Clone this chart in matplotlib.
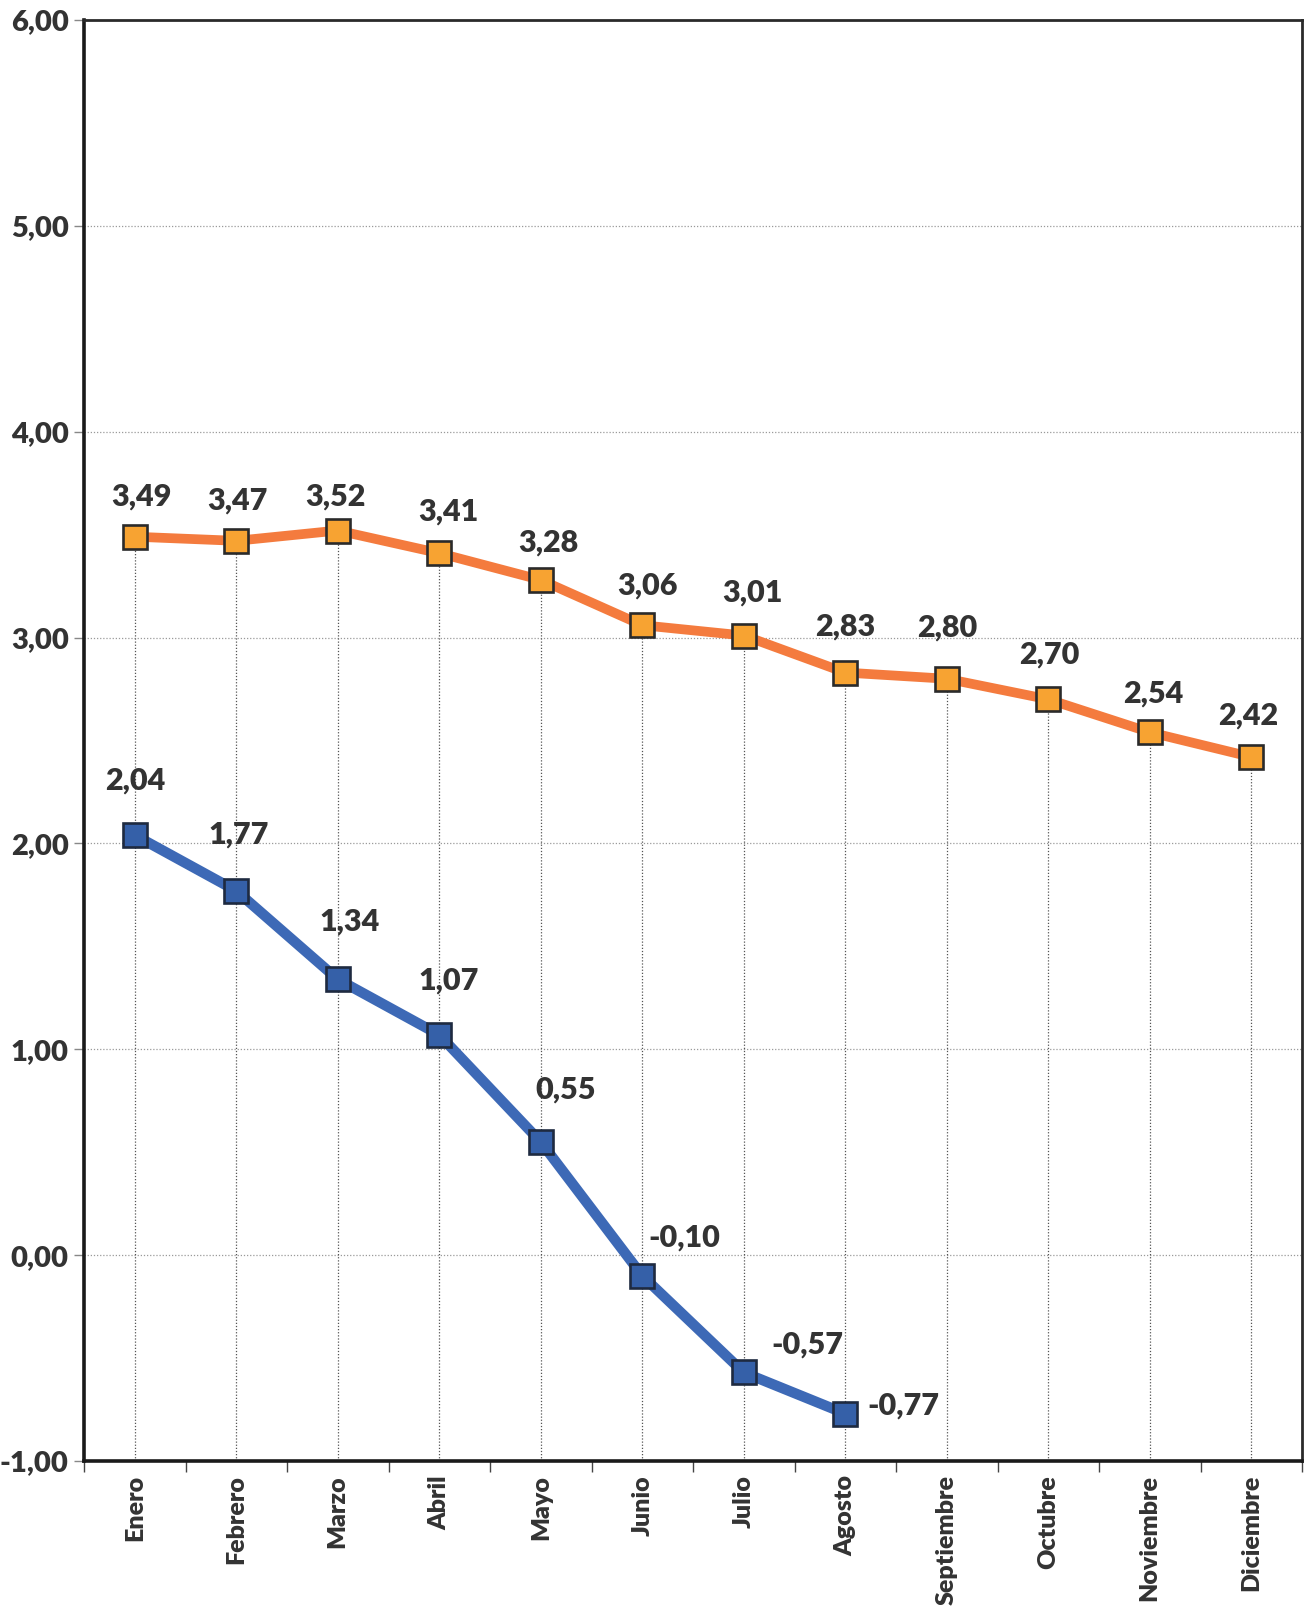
import matplotlib
matplotlib.use("Agg")
import matplotlib.pyplot as plt
import numpy as np

months = ["Enero", "Febrero", "Marzo", "Abril", "Mayo", "Junio", "Julio",
          "Agosto", "Septiembre", "Octubre", "Noviembre", "Diciembre"]
orange_vals = [3.49, 3.47, 3.52, 3.41, 3.28, 3.06, 3.01, 2.83, 2.80, 2.70, 2.54, 2.42]
blue_vals = [2.04, 1.77, 1.34, 1.07, 0.55, -0.10, -0.57, -0.77]
yticks = [-1, 0, 1, 2, 3, 4, 5, 6]

# label offsets in pixels (dx, dy)
orange_off = [(7, 40), (1, 40), (-2, 34), (9, 42), (8, 37), (5, 40), (9, 43),
              (0, 46), (1, 51), (1, 45), (3, 39), (-3, 41)]
blue_off = [(1, 55), (2, 56), (12, 58), (9, 54), (25, 52), (42, 38), (64, 28), (22, 8)]
blue_ha = ["center"] * 7 + ["left"]

plt.rcParams['font.family'] = ['Lato', 'DejaVu Sans']

W, H = 1311, 1619
L, R, T, B = 84, 1302, 20, 1461
fig = plt.figure(figsize=(W/100, H/100), dpi=100)
ax = fig.add_axes([L/W, 1 - B/H, (R-L)/W, (B-T)/H])

x = np.arange(len(months))
xb = np.arange(len(blue_vals))

ax.set_xlim(-0.5, 11.5)
ax.set_ylim(-1, 6)

# horizontal gridlines
for yv in yticks[1:-1]:
    ax.axhline(yv, color="#9a9a9a", lw=0.9, ls=(0, (1, 1.5)), zorder=1)

# drop lines
ax.vlines(x, -1, orange_vals, colors="#555555", lw=0.9, linestyles=(0, (1, 1.5)), zorder=1)

ax.plot(x, orange_vals, color="#F47B3E", lw=7, zorder=3,
        marker="s", markersize=17, markerfacecolor="#F7A332",
        markeredgecolor="#2a2a2a", markeredgewidth=1.9)
ax.plot(xb, blue_vals, color="#3D69B6", lw=7.5, zorder=3,
        marker="s", markersize=17, markerfacecolor="#3560A8",
        markeredgecolor="#1e2a40", markeredgewidth=1.9)

def fmt(v):
    return f"{v:.2f}".replace(".", ",")

for xi, v, (dx, dy) in zip(x, orange_vals, orange_off):
    ax.annotate(fmt(v), (xi, v), xytext=(dx, dy), textcoords="offset pixels",
                ha="center", va="center", fontsize=22, fontweight="heavy",
                color="#333333", zorder=4)
for xi, v, (dx, dy), ha in zip(xb, blue_vals, blue_off, blue_ha):
    ax.annotate(fmt(v), (xi, v), xytext=(dx, dy), textcoords="offset pixels",
                ha=ha, va="center", fontsize=22, fontweight="heavy",
                color="#333333", zorder=4)

ax.set_yticks(yticks)
ax.set_yticklabels([fmt(v) for v in yticks], fontsize=21, fontweight="heavy", color="#333333")
ax.tick_params(axis="y", length=7, width=1, direction="out", pad=4, color="#888888")

ax.set_xticks(x)
ax.set_xticklabels(months, rotation=90, fontsize=18, fontweight="heavy", color="#333333")
ax.tick_params(axis="x", which="major", length=0, pad=10)
ax.set_xticks(np.arange(-0.5, 12, 1), minor=True)
ax.tick_params(axis="x", which="minor", length=8, width=1, direction="out", color="#444444")

for side in ["left", "bottom"]:
    ax.spines[side].set_linewidth(2.6)
    ax.spines[side].set_color("#1a1a1a")
for side in ["top", "right"]:
    ax.spines[side].set_linewidth(2.0)
    ax.spines[side].set_color("#2a2a2a")

fig.savefig("out.png", dpi=100)
